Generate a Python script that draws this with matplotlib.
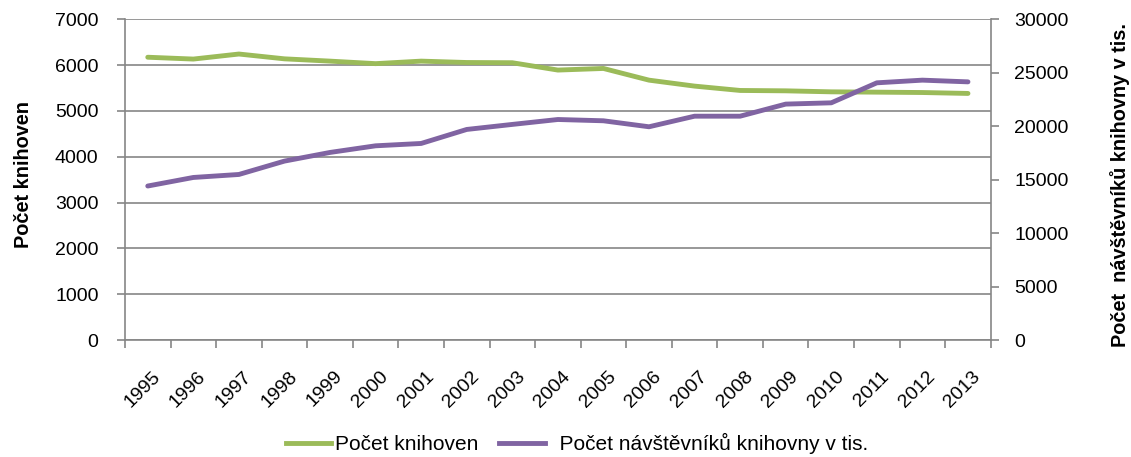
import matplotlib
matplotlib.use("Agg")
import matplotlib.pyplot as plt
import matplotlib.transforms as mtransforms
import numpy as np
from matplotlib.lines import Line2D

years = ["1995", "1996", "1997", "1998", "1999", "2000", "2001", "2002", "2003", "2004",
         "2005", "2006", "2007", "2008", "2009", "2010", "2011", "2012", "2013"]
knihovny = [6170, 6130, 6240, 6135, 6085, 6030, 6085, 6055, 6050, 5890,
            5925, 5670, 5540, 5445, 5437, 5415, 5408, 5400, 5380]
navstevnici = [14400, 15200, 15480, 16730, 17540, 18160, 18380, 19690, 20160, 20620,
               20500, 19940, 20930, 20930, 22060, 22180, 24050, 24300, 24140]

left_ticks = list(range(0, 7001, 1000))
right_ticks = list(range(0, 30001, 5000))

GREEN = "#9BBB59"
PURPLE = "#8064A2"
GRAY = "#868686"
FONT = "Liberation Sans"
plt.rcParams['font.family'] = [FONT, 'DejaVu Sans']

fig = plt.figure(figsize=(11.31, 4.57), dpi=100)
ax = fig.add_axes([0.1105, 0.256, 0.7655, 0.702])
ax2 = ax.twinx()

x = np.arange(len(years))
ax.plot(x, knihovny, color=GREEN, lw=3.5, solid_capstyle='round', zorder=3)
ax2.plot(x, navstevnici, color=PURPLE, lw=3.5, solid_capstyle='round', zorder=3)

ax.set_xlim(-0.5, len(years) - 0.5)
ax.set_ylim(0, 7000)
ax2.set_ylim(0, 30000)
ax.set_yticks(left_ticks)
ax.set_yticklabels([str(v) for v in left_ticks], fontsize=14)
ax2.set_yticks(right_ticks)
ax2.set_yticklabels([str(v) for v in right_ticks], fontsize=14)

ax.yaxis.grid(True, color=GRAY, lw=1.2)
ax.set_axisbelow(True)

ax.set_xticks(np.arange(-0.5, len(years), 1.0))
ax.set_xticklabels([])
ax.set_xticks(x, minor=True)
ax.set_xticklabels(years, minor=True, rotation=45, ha='right', va='top',
                   rotation_mode='anchor', fontsize=14)
ax.tick_params(axis='x', which='minor', length=0, pad=20)
ax.tick_params(axis='x', which='major', length=6, color=GRAY, width=1.2)
ax.tick_params(axis='y', length=6, color=GRAY, width=1.2, pad=13)
ax2.tick_params(axis='y', length=6, color=GRAY, width=1.2, pad=11)
offset = mtransforms.ScaledTranslation(4 / 100, 0, fig.dpi_scale_trans)
for lbl in ax.get_xticklabels(minor=True):
    lbl.set_transform(lbl.get_transform() + offset)

for a in (ax, ax2):
    a.spines['top'].set_visible(False)
    for s in ['left', 'right', 'bottom']:
        a.spines[s].set_color(GRAY)
        a.spines[s].set_linewidth(1.2)
ax.spines['right'].set_visible(False)
ax2.spines['left'].set_visible(False)
ax2.spines['bottom'].set_visible(False)

fig.text(0.021, 0.619, "Počet knihoven", rotation=90, fontsize=14.3, fontweight='bold',
         ha='center', va='center')
fig.text(0.99, 0.595, "Počet  návštěvníků knihovny v tis.", rotation=90, fontsize=14.3,
         fontweight='bold', ha='center', va='center')

handles = [Line2D([], [], color=GREEN, lw=3.5), Line2D([], [], color=PURPLE, lw=3.5)]
fig.legend(handles, ["Počet knihoven", "  Počet návštěvníků knihovny v tis."],
           loc='lower center', bbox_to_anchor=(0.51, -0.035), ncol=2, frameon=False,
           fontsize=15, handlelength=2.2, columnspacing=1.0, handletextpad=0.15)

fig.savefig("out.png", dpi=100)
